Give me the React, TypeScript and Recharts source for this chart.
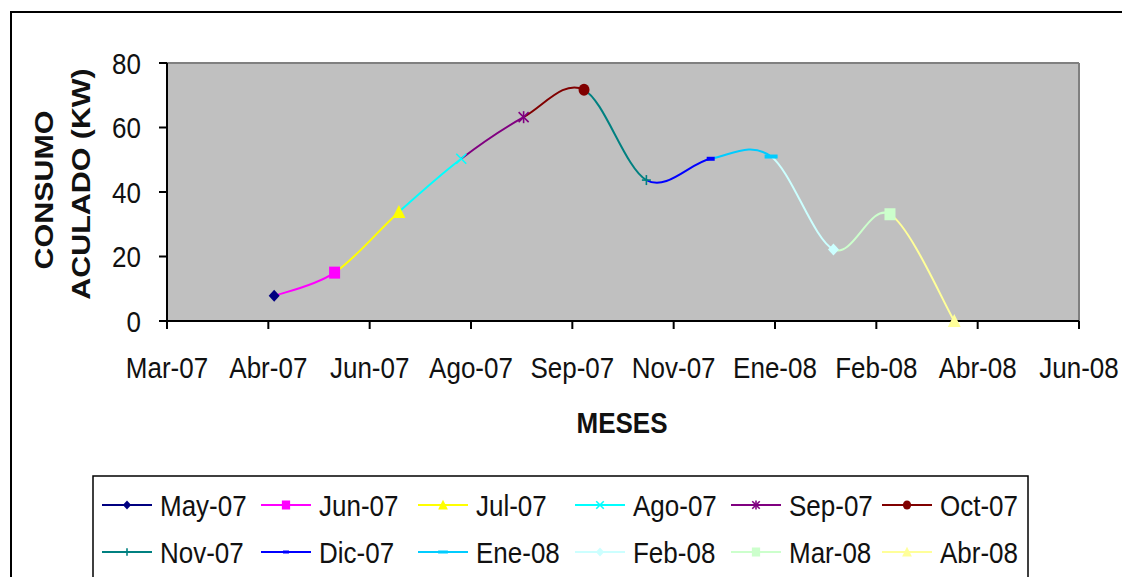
import React from "react";
import { LineChart, Line, XAxis, YAxis, CartesianGrid, ReferenceLine } from "recharts";

// one reading per month, each point gets its own colour / marker (Excel "vary colors by point")
const MONTHS = ["May-07", "Jun-07", "Jul-07", "Ago-07", "Sep-07", "Oct-07", "Nov-07", "Dic-07", "Ene-08", "Feb-08", "Mar-08", "Abr-08"];
const READING_DATES = ["2007-04-25", "2007-05-26", "2007-06-28", "2007-07-30", "2007-08-31", "2007-10-01", "2007-11-02", "2007-12-05", "2008-01-05", "2008-02-06", "2008-03-06", "2008-04-08"];
const CONSUMO_KW = [7.8, 15, 33.8, 50.3, 63.2, 71.7, 43.7, 50.3, 51, 22.2, 33.1, 0];
const COLORS = ["#000080", "#FF00FF", "#FFFF00", "#00FFFF", "#800080", "#800000", "#008080", "#0000FF", "#00CCFF", "#CCFFFF", "#CCFFCC", "#FFFF99"];
const MARKERS = ["diamond", "square", "triangle", "x", "star", "circle", "plus", "dash", "longdash", "diamond", "square", "triangle"];

const AXIS_LABELS = ["Mar-07", "Abr-07", "Jun-07", "Ago-07", "Sep-07", "Nov-07", "Ene-08", "Feb-08", "Abr-08", "Jun-08"];
const AXIS_START = "2007-03-01";
const AXIS_STEP_DAYS = 52;
const Y_TICKS = [0, 20, 40, 60, 80];

const FONT = "'Liberation Sans', Arial, sans-serif";
const STRETCH = 1.17; // source picture is a bit taller than wide
const LEGEND_COLS = [102, 261, 418, 575, 731, 882];

const DAY = 86400000;
const dayOffset = (iso: string) => Math.round((Date.parse(iso) - Date.parse(AXIS_START)) / DAY);

const rows = MONTHS.map((month, i) => ({ month, t: dayOffset(READING_DATES[i]), kw: CONSUMO_KW[i] }));
const xTicks = AXIS_LABELS.map((_, i) => i * AXIS_STEP_DAYS);

// segment i-1 -> i is painted in the colour of point i
const span = rows[rows.length - 1].t - rows[0].t;
const gradStops = rows.slice(1).flatMap((r, k) => [
  { off: (rows[k].t - rows[0].t) / span, color: COLORS[k + 1] },
  { off: (r.t - rows[0].t) / span, color: COLORS[k + 1] },
]);

// Excel-like smoothed line (Catmull-Rom as cubic bezier)
function excelSmooth(context: any) {
  let pts: number[][] = [];
  return {
    areaStart() {},
    areaEnd() {},
    lineStart() {
      pts = [];
    },
    point(x: number, y: number) {
      pts.push([+x, +y]);
    },
    lineEnd() {
      if (!pts.length) return;
      context.moveTo(pts[0][0], pts[0][1]);
      for (let i = 0; i < pts.length - 1; i++) {
        const p0 = pts[Math.max(i - 1, 0)];
        const p1 = pts[i];
        const p2 = pts[i + 1];
        const p3 = pts[Math.min(i + 2, pts.length - 1)];
        context.bezierCurveTo(
          p1[0] + (p2[0] - p0[0]) / 6,
          p1[1] + (p2[1] - p0[1]) / 6,
          p2[0] - (p3[0] - p1[0]) / 6,
          p2[1] - (p3[1] - p1[1]) / 6,
          p2[0],
          p2[1]
        );
      }
      pts = [];
    },
  };
}

function Marker({ kind, cx, cy, color, s = 1 }: { kind: string; cx: number; cy: number; color: string; s?: number }) {
  switch (kind) {
    case "diamond":
      return <polygon points={`${cx},${cy - 6 * s} ${cx + 5.5 * s},${cy} ${cx},${cy + 6 * s} ${cx - 5.5 * s},${cy}`} fill={color} />;
    case "square":
      return <rect x={cx - 5.5 * s} y={cy - 6 * s} width={11 * s} height={12 * s} fill={color} />;
    case "triangle":
      return <polygon points={`${cx},${cy - 7 * s} ${cx + 6.5 * s},${cy + 6 * s} ${cx - 6.5 * s},${cy + 6 * s}`} fill={color} />;
    case "x":
      return (
        <g stroke={color} strokeWidth={1.6}>
          <line x1={cx - 5 * s} y1={cy - 5 * s} x2={cx + 5 * s} y2={cy + 5 * s} />
          <line x1={cx - 5 * s} y1={cy + 5 * s} x2={cx + 5 * s} y2={cy - 5 * s} />
        </g>
      );
    case "star":
      return (
        <g stroke={color} strokeWidth={1.6}>
          <line x1={cx - 5 * s} y1={cy - 5 * s} x2={cx + 5 * s} y2={cy + 5 * s} />
          <line x1={cx - 5 * s} y1={cy + 5 * s} x2={cx + 5 * s} y2={cy - 5 * s} />
          <line x1={cx} y1={cy - 6 * s} x2={cx} y2={cy + 6 * s} />
        </g>
      );
    case "circle":
      return <ellipse cx={cx} cy={cy} rx={5.5 * s} ry={6 * s} fill={color} />;
    case "plus":
      return (
        <g stroke={color} strokeWidth={1.6}>
          <line x1={cx - 4.5 * s} y1={cy} x2={cx + 4.5 * s} y2={cy} />
          <line x1={cx} y1={cy - 5 * s} x2={cx} y2={cy + 5 * s} />
        </g>
      );
    case "dash":
      return <rect x={cx - 4 * s} y={cy - 2 * s} width={8 * s} height={4 * s} fill={color} />;
    case "longdash":
      return <rect x={cx - 6.5 * s} y={cy - 2 * s} width={13 * s} height={4 * s} fill={color} />;
    default:
      return null;
  }
}

const XTick = ({ x, y, payload }: any) => (
  <g transform={`translate(${x},${y}) scale(1,${STRETCH})`}>
    <text x={0} y={0} dy="0.72em" textAnchor="middle" fontSize={26} fontFamily={FONT} fill="#111">
      {AXIS_LABELS[Math.round(payload.value / AXIS_STEP_DAYS)]}
    </text>
  </g>
);

const YTick = ({ x, y, payload }: any) => (
  <g transform={`translate(${x},${y}) scale(1,${STRETCH})`}>
    <text x={0} y={0} dy="0.36em" textAnchor="end" fontSize={26} fontFamily={FONT} fill="#111">
      {payload.value}
    </text>
  </g>
);

const renderDot = (props: any) => {
  const { cx, cy, index } = props;
  return <Marker key={`dot-${index}`} kind={MARKERS[index]} cx={cx} cy={cy} color={COLORS[index]} />;
};

function LegendBox() {
  return (
    <svg width={1122} height={577} style={{ position: "absolute", left: 0, top: 0, pointerEvents: "none" }}>
      <rect x={93} y={476} width={935} height={130} fill="#fff" stroke="#000" strokeWidth={1.5} />
      {MONTHS.map((m, i) => {
        const lx = LEGEND_COLS[i % 6];
        const ly = 505 + Math.floor(i / 6) * 47;
        return (
          <g key={m}>
            <line x1={lx} x2={lx + 50} y1={ly} y2={ly} stroke={COLORS[i]} strokeWidth={2} />
            <Marker kind={MARKERS[i]} cx={lx + 25} cy={ly} color={COLORS[i]} s={0.75} />
            <g transform={`translate(${lx + 58},${ly}) scale(1,${STRETCH})`}>
              <text x={0} y={0} dy="0.36em" fontSize={26} fontFamily={FONT} fill="#111">
                {m}
              </text>
            </g>
          </g>
        );
      })}
    </svg>
  );
}

export default function App() {
  return (
    <div style={{ position: "absolute", left: 0, top: 0, width: 1122, height: 577, overflow: "hidden", background: "#fff", fontFamily: FONT }}>
      <div style={{ position: "absolute", left: 10, top: 11, width: 1130, height: 620, border: "2px solid #000", boxSizing: "border-box" }} />
      <div style={{ position: "absolute", left: 0, top: 0 }}>
        <LineChart width={1122} height={577} data={rows} margin={{ top: 63, right: 43, bottom: 196, left: 107 }}>
          <defs>
            <linearGradient id="segStroke" x1="0" y1="0" x2="1" y2="0">
              {gradStops.map((s, i) => (
                <stop key={i} offset={s.off} stopColor={s.color} />
              ))}
            </linearGradient>
          </defs>
          <CartesianGrid horizontal={false} vertical={false} fill="#C0C0C0" />
          <ReferenceLine y={80} stroke="#808080" strokeWidth={2} />
          <ReferenceLine x={AXIS_STEP_DAYS * (AXIS_LABELS.length - 1)} stroke="#808080" strokeWidth={2} />
          <XAxis
            dataKey="t"
            type="number"
            domain={[0, AXIS_STEP_DAYS * (AXIS_LABELS.length - 1)]}
            ticks={xTicks}
            interval={0}
            height={60}
            tickSize={8}
            tickMargin={27}
            axisLine={{ stroke: "#000", strokeWidth: 2 }}
            tickLine={{ stroke: "#000", strokeWidth: 2 }}
            tick={<XTick />}
          />
          <YAxis
            type="number"
            domain={[0, 80]}
            ticks={Y_TICKS}
            interval={0}
            width={60}
            tickSize={8}
            tickMargin={18}
            axisLine={{ stroke: "#000", strokeWidth: 2 }}
            tickLine={{ stroke: "#000", strokeWidth: 2 }}
            tick={<YTick />}
          />
          <Line
            dataKey="kw"
            type={excelSmooth as any}
            stroke="url(#segStroke)"
            strokeWidth={2}
            dot={renderDot}
            activeDot={false}
            isAnimationActive={false}
          />
          <g fontFamily={FONT} fontWeight="bold" fontSize={26} fill="#111">
            <text transform={`translate(53,190) rotate(-90) scale(${STRETCH},1)`} textAnchor="middle">
              CONSUMO
            </text>
            <text transform={`translate(90,184) rotate(-90) scale(${STRETCH},1)`} textAnchor="middle">
              ACULADO (KW)
            </text>
            <text transform={`translate(622,433) scale(1,${STRETCH})`} textAnchor="middle">
              MESES
            </text>
          </g>
        </LineChart>
      </div>
      <LegendBox />
    </div>
  );
}
